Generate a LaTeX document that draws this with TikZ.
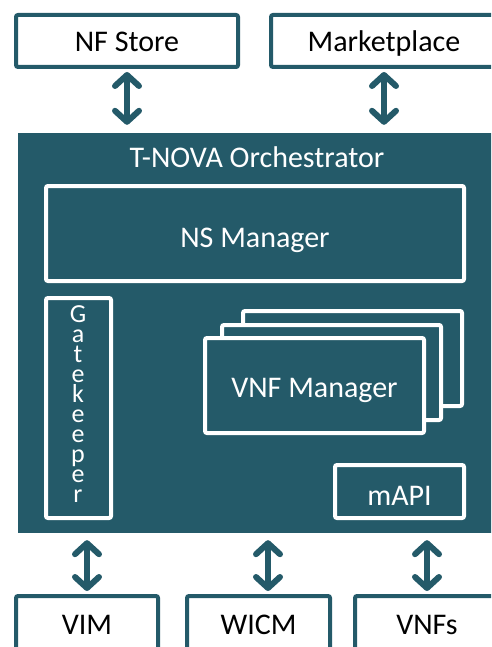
\documentclass[tikz,border=0pt]{standalone}
\usepackage{fontspec}
\setmainfont{Carlito}
\usetikzlibrary{arrows.meta}
\definecolor{tnteal}{HTML}{245A69}
\tikzset{
  extbox/.style={draw=tnteal,line width=4pt,rounded corners=2pt,fill=white,text=black,
    font=\fontsize{30}{36}\selectfont,text height=21pt,text depth=0pt,inner sep=0pt},
  modbox/.style={draw=white,line width=4pt,rounded corners=2pt,fill=tnteal,text=white,
    font=\fontsize{30}{36}\selectfont,text height=19pt,text depth=0pt,inner sep=0pt},
  orchbox/.style={fill=tnteal,inner sep=0pt},
  biarrow/.style={draw=tnteal,line width=6pt,line cap=round,
    {Straight Barb[length=11pt,width=24pt,round]}-{Straight Barb[length=11pt,width=24pt,round]}}
}
\begin{document}
\begin{tikzpicture}[x=1pt,y=-1pt]
  \useasboundingbox (0,0) rectangle (491,647);
  \clip (0,0) rectangle (491,647);
  % orchestrator
  \node[orchbox,minimum width=478pt,minimum height=400pt] (orch) at (257,333) {};
  \node[text=white,font=\fontsize{30}{36}\selectfont,text height=19pt,text depth=0pt,inner sep=0pt]
    (orchtitle) at (257,158) {T-NOVA Orchestrator};
  \draw
    (255,233.5) node[modbox,text height=27pt,minimum width=418pt,minimum height=95pt] (nsm){NS Manager}
    (78.5,408) node[modbox,minimum width=65pt,minimum height=220pt] (gk){}
    (352.5,358.5) node[modbox,minimum width=219pt,minimum height=95pt] (vnfm3){}
    (331.5,372.5) node[modbox,minimum width=219pt,minimum height=95pt] (vnfm2){}
    (314.5,385.5) node[modbox,text height=24pt,minimum width=219pt,minimum height=95pt] (vnfm){VNF Manager}
    (399.5,491.5) node[modbox,text height=27pt,minimum width=129pt,minimum height=53pt] (mapi){mAPI};
  \node[text=white,align=center,font=\fontsize{26}{20}\selectfont,inner sep=0pt]
    (gktext) at (78,404) {G\\a\\t\\e\\k\\e\\e\\p\\e\\r};
  % outside
  \draw
    (127,41) node[extbox,minimum width=222pt,minimum height=52pt] (store){NF Store}
    (384,41) node[extbox,minimum width=226pt,minimum height=52pt] (market){Marketplace}
    (87,624) node[extbox,minimum width=142pt,minimum height=56pt] (vim){VIM}
    (258.5,624) node[extbox,minimum width=143pt,minimum height=56pt] (wicm){WICM}
    (427,624) node[extbox,minimum width=144pt,minimum height=56pt] (vnfs){VNFs};
  \begin{scope}[biarrow,shorten <=3pt,shorten >=3pt]
    \draw (store.south) to ([yshift=5pt]store.south |- orch.north);
    \draw (market.south) to ([yshift=5pt]market.south |- orch.north);
    \draw ([yshift=-4pt]vim.north |- orch.south) to (vim.north);
    \draw ([yshift=-4pt,xshift=9.5pt]wicm.north |- orch.south) to ([xshift=9.5pt]wicm.north);
    \draw ([yshift=-4pt]vnfs.north |- orch.south) to (vnfs.north);
  \end{scope}
\end{tikzpicture}
\end{document}
